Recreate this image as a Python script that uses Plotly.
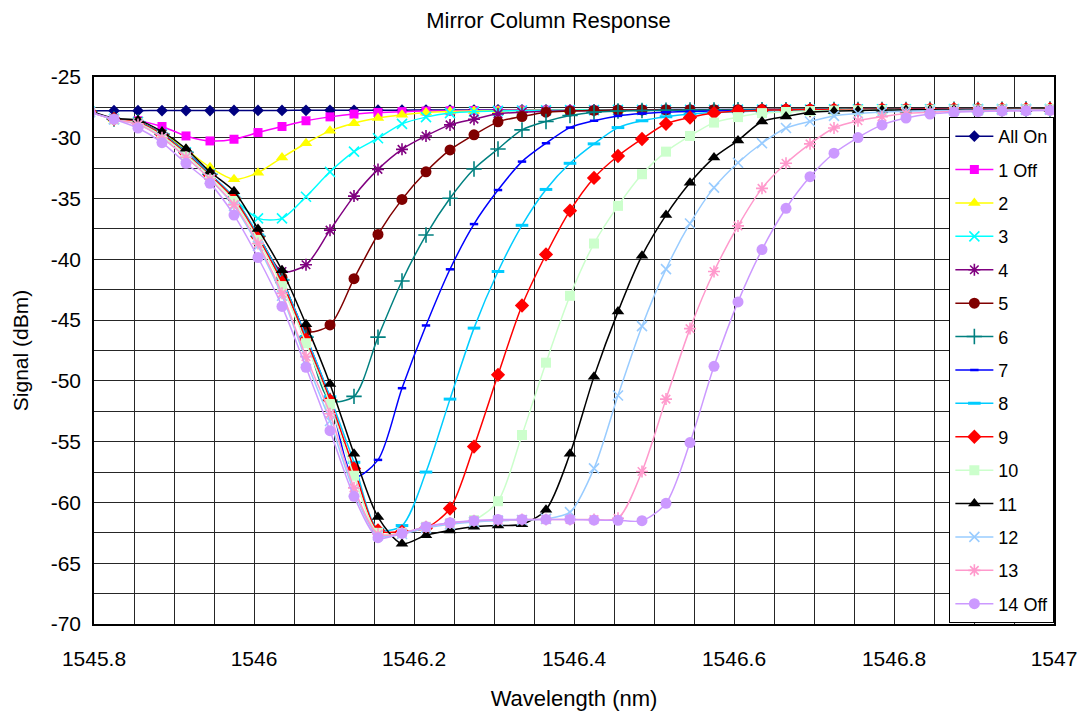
import plotly.graph_objects as go

wavelength = [1545.795, 1545.825, 1545.855, 1545.885, 1545.915, 1545.945, 1545.975, 1546.005, 1546.035, 1546.065,
              1546.095, 1546.125, 1546.155, 1546.185, 1546.215, 1546.245, 1546.275, 1546.305, 1546.335, 1546.365,
              1546.395, 1546.425, 1546.455, 1546.485, 1546.515, 1546.545, 1546.575, 1546.605, 1546.635, 1546.665,
              1546.695, 1546.725, 1546.755, 1546.785, 1546.815, 1546.845, 1546.875, 1546.905, 1546.935, 1546.965,
              1546.995]

all_on = [-27.78, -27.77, -27.77, -27.76, -27.76, -27.76, -27.75, -27.75, -27.75, -27.74, -27.74, -27.74, -27.73, -27.73,
          -27.72, -27.72, -27.72, -27.71, -27.71, -27.70, -27.70, -27.70, -27.69, -27.69, -27.68, -27.68, -27.68, -27.67,
          -27.67, -27.66, -27.66, -27.66, -27.65, -27.65, -27.65, -27.64, -27.64, -27.64, -27.63, -27.63, -27.63]
off_1 = [-27.85, -28.45, -28.60, -29.07, -29.85, -30.26, -30.12, -29.57, -29.07, -28.60, -28.28, -28.05, -27.92, -27.85,
         -27.80, -27.78, -27.76, -27.75, -27.74, -27.73, -27.72, -27.72, -27.71, -27.70, -27.70, -27.69, -27.69, -27.68,
         -27.68, -27.67, -27.67, -27.66, -27.66, -27.65, -27.65, -27.65, -27.64, -27.64, -27.64, -27.63, -27.63]
s2 = [-27.85, -28.45, -28.65, -29.60, -30.95, -32.43, -33.42, -32.87, -31.63, -30.45, -29.43, -28.80, -28.38, -28.11,
      -27.92, -27.84, -27.80, -27.77, -27.75, -27.74, -27.73, -27.72, -27.71, -27.70, -27.70, -27.69, -27.69, -27.68,
      -27.68, -27.67, -27.67, -27.66, -27.66, -27.65, -27.65, -27.65, -27.64, -27.64, -27.64, -27.63, -27.63]
s3 = [-27.85, -28.45, -28.70, -29.70, -31.20, -33.00, -35.00, -36.63, -36.63, -34.85, -32.80, -31.14, -30.04, -28.86,
      -28.30, -27.97, -27.84, -27.79, -27.76, -27.74, -27.73, -27.72, -27.71, -27.70, -27.70, -27.69, -27.69, -27.68,
      -27.68, -27.67, -27.67, -27.66, -27.66, -27.65, -27.65, -27.65, -27.64, -27.64, -27.64, -27.63, -27.63]
s4 = [-27.85, -28.45, -28.70, -29.70, -31.20, -33.00, -35.10, -38.00, -41.00, -40.45, -37.60, -34.80, -32.60, -30.95,
      -29.85, -28.94, -28.47, -28.03, -27.90, -27.82, -27.78, -27.76, -27.74, -27.72, -27.71, -27.70, -27.70, -27.69,
      -27.68, -27.68, -27.67, -27.67, -27.66, -27.66, -27.65, -27.65, -27.64, -27.64, -27.64, -27.63, -27.63]
s5 = [-27.85, -28.45, -28.70, -29.70, -31.20, -33.00, -35.00, -38.10, -41.50, -45.90, -45.40, -41.59, -37.95, -35.07,
      -32.80, -31.00, -29.76, -28.69, -28.25, -27.89, -27.80, -27.75, -27.72, -27.71, -27.70, -27.70, -27.69, -27.69,
      -27.68, -27.68, -27.67, -27.67, -27.66, -27.66, -27.65, -27.65, -27.64, -27.64, -27.64, -27.63, -27.63]
s6 = [-27.85, -28.45, -28.70, -29.70, -31.20, -33.00, -35.00, -38.10, -41.70, -46.40, -51.60, -51.27, -46.40, -41.78,
      -38.00, -34.98, -32.57, -30.92, -29.35, -28.66, -28.17, -27.89, -27.80, -27.76, -27.74, -27.72, -27.71, -27.70,
      -27.69, -27.68, -27.68, -27.67, -27.67, -27.66, -27.66, -27.65, -27.65, -27.64, -27.64, -27.63, -27.63]
s7 = [-27.85, -28.45, -28.70, -29.70, -31.20, -33.00, -34.95, -38.05, -41.75, -46.35, -51.40, -57.90, -56.50, -50.60,
      -45.44, -40.82, -37.10, -34.30, -31.96, -30.45, -29.16, -28.60, -28.20, -28.00, -27.90, -27.84, -27.80, -27.77,
      -27.75, -27.73, -27.72, -27.71, -27.70, -27.69, -27.68, -27.67, -27.66, -27.65, -27.65, -27.64, -27.64]
s8 = [-27.85, -28.45, -28.70, -29.70, -31.20, -33.00, -34.90, -38.00, -41.70, -46.35, -51.30, -56.70, -62.20, -61.90,
      -57.50, -51.50, -45.66, -41.00, -37.20, -34.25, -32.10, -30.50, -29.16, -28.60, -28.27, -28.05, -27.92, -27.85,
      -27.80, -27.77, -27.75, -27.73, -27.72, -27.71, -27.70, -27.69, -27.68, -27.67, -27.66, -27.65, -27.65]
s9 = [-27.85, -28.45, -28.75, -29.75, -31.30, -33.10, -35.00, -38.20, -41.90, -46.60, -51.60, -57.20, -62.30, -62.40,
      -62.10, -60.50, -55.40, -49.50, -43.80, -39.60, -36.00, -33.30, -31.50, -30.10, -28.85, -28.33, -27.97, -27.80,
      -27.74, -27.71, -27.70, -27.69, -27.68, -27.67, -27.66, -27.66, -27.65, -27.65, -27.64, -27.64, -27.63]
s10 = [-27.85, -28.50, -28.80, -29.85, -31.40, -33.20, -35.20, -38.40, -42.20, -46.90, -51.90, -57.80, -62.50, -62.50,
       -62.00, -61.70, -61.45, -59.90, -54.45, -48.50, -43.00, -38.70, -35.60, -33.00, -31.14, -29.85, -28.75, -28.30,
       -27.97, -27.88, -27.80, -27.76, -27.73, -27.71, -27.70, -27.69, -27.68, -27.67, -27.66, -27.65, -27.64]
s11 = [-27.80, -28.40, -28.55, -29.50, -30.90, -32.80, -34.40, -37.50, -40.90, -45.35, -50.25, -56.00, -61.20, -63.40,
       -62.70, -62.30, -62.00, -61.90, -61.80, -60.60, -56.00, -49.65, -44.30, -39.70, -36.36, -33.70, -31.63, -30.23,
       -28.66, -28.25, -27.90, -27.80, -27.75, -27.72, -27.70, -27.69, -27.68, -27.67, -27.66, -27.65, -27.64]
s12 = [-27.90, -28.50, -28.90, -30.00, -31.60, -33.40, -35.60, -38.90, -43.00, -48.30, -53.30, -59.10, -62.70, -62.60,
       -62.10, -61.80, -61.60, -61.50, -61.45, -61.35, -60.80, -57.20, -51.20, -45.50, -40.80, -37.05, -34.10, -32.05,
       -30.45, -29.20, -28.66, -28.20, -28.00, -27.88, -27.82, -27.78, -27.75, -27.73, -27.71, -27.70, -27.69]
s13 = [-27.90, -28.50, -28.90, -30.00, -31.60, -33.40, -35.50, -38.70, -42.80, -48.00, -52.70, -58.80, -62.60, -62.50,
       -62.00, -61.70, -61.50, -61.45, -61.40, -61.40, -61.40, -61.40, -61.30, -57.45, -51.50, -45.70, -41.00, -37.25,
       -34.16, -32.10, -30.50, -29.20, -28.60, -28.27, -28.00, -27.90, -27.83, -27.79, -27.76, -27.74, -27.72]
off_14 = [-27.90, -28.47, -29.20, -30.40, -32.10, -33.75, -36.36, -39.85, -43.87, -48.88, -54.10, -59.50, -62.90, -62.55,
          -62.00, -61.67, -61.50, -61.40, -61.40, -61.40, -61.40, -61.45, -61.47, -61.50, -60.07, -55.07, -48.80, -43.50,
          -39.20, -35.80, -33.20, -31.27, -29.98, -28.94, -28.38, -28.05, -27.90, -27.84, -27.80, -27.78, -27.75]

series_names = ["All On", "1 Off", "2", "3", "4", "5", "6", "7", "8", "9", "10", "11", "12", "13", "14 Off"]
series_values = [all_on, off_1, s2, s3, s4, s5, s6, s7, s8, s9, s10, s11, s12, s13, off_14]

x_tick_vals = [1545.8, 1546.0, 1546.2, 1546.4, 1546.6, 1546.8, 1547.0]
x_tick_text = ["1545.8", "1546", "1546.2", "1546.4", "1546.6", "1546.8", "1547"]
y_tick_vals = [-25, -30, -35, -40, -45, -50, -55, -60, -65, -70]
y_tick_text = ["-25", "-30", "-35", "-40", "-45", "-50", "-55", "-60", "-65", "-70"]

styles = [
    dict(color="#000080", symbol="diamond", size=9, lw=0),
    dict(color="#FF00FF", symbol="square", size=9, lw=0),
    dict(color="#FFFF00", symbol="triangle-up", size=11, lw=0),
    dict(color="#00FFFF", symbol="x-thin", size=10, lw=1.6),
    dict(color="#800080", symbol="asterisk", size=10, lw=1.6),
    dict(color="#800000", symbol="circle", size=11, lw=0),
    dict(color="#008080", symbol="cross-thin", size=11, lw=1.6),
    dict(color="#0000FF", symbol="line-ew", size=6, lw=2.5),
    dict(color="#00CCFF", symbol="line-ew", size=9, lw=3),
    dict(color="#FF0000", symbol="diamond", size=11, lw=0),
    dict(color="#CCFFCC", symbol="square", size=10, lw=0),
    dict(color="#000000", symbol="triangle-up", size=11, lw=0),
    dict(color="#99CCFF", symbol="x-thin", size=10, lw=1.6),
    dict(color="#FF99CC", symbol="asterisk", size=10, lw=1.6),
    dict(color="#CC99FF", symbol="circle", size=11, lw=0),
]

fig = go.Figure()
for name, vals, st in zip(series_names, series_values, styles):
    marker = dict(symbol=st["symbol"], size=st["size"], color=st["color"])
    if st["lw"] > 0:
        marker["line"] = dict(color=st["color"], width=st["lw"])
    else:
        marker["line"] = dict(width=0)
    fig.add_trace(go.Scatter(
        x=wavelength, y=vals, name=name, mode="lines+markers",
        line=dict(color=st["color"], width=1.5, shape="spline", smoothing=0.8),
        marker=marker, legendgroup=name,
    ))

font_family = "Liberation Sans, Arial, sans-serif"
grid_color = "#262626"

# page body has an 8px margin, so the figure is 8px smaller on each side
fig.update_layout(
    width=1081, height=711,
    margin=dict(l=85, r=22, t=69, b=88),
    paper_bgcolor="white", plot_bgcolor="white",
    font=dict(family=font_family, color="black", size=21),
    title=dict(text="Mirror Column Response", x=0.5, xref="container", y=0.982, yref="container",
               xanchor="center", yanchor="middle", font=dict(size=22, family=font_family)),
    legend=dict(x=0.891, y=0.927, xanchor="left", yanchor="top", bgcolor="white",
                bordercolor="black", borderwidth=1, font=dict(size=18, family=font_family),
                tracegroupgap=7, itemwidth=38),
    showlegend=True,
)
fig.update_xaxes(
    range=[1545.8, 1547.0], tickvals=x_tick_vals, ticktext=x_tick_text,
    showgrid=True, gridcolor=grid_color, gridwidth=1,
    minor=dict(dtick=0.05, tick0=1545.8, showgrid=True, gridcolor=grid_color, gridwidth=1),
    showline=True, linecolor="black", linewidth=1.5, mirror=True,
    ticks="", ticklabelstandoff=15, ticklabeloverflow="allow", tickfont=dict(size=21),
    title=dict(text="Wavelength (nm)", font=dict(size=22), standoff=22),
    zeroline=False,
)
fig.update_yaxes(
    range=[-70, -25], tickvals=y_tick_vals, ticktext=y_tick_text,
    showgrid=True, gridcolor=grid_color, gridwidth=1,
    minor=dict(dtick=2.5, tick0=-70, showgrid=True, gridcolor=grid_color, gridwidth=1),
    showline=True, linecolor="black", linewidth=1.5, mirror=True,
    ticks="", ticklabelstandoff=7, tickfont=dict(size=21),
    title=dict(text="Signal (dBm)", font=dict(size=21), standoff=16),
    zeroline=False,
)

fig.write_html("out.html")
